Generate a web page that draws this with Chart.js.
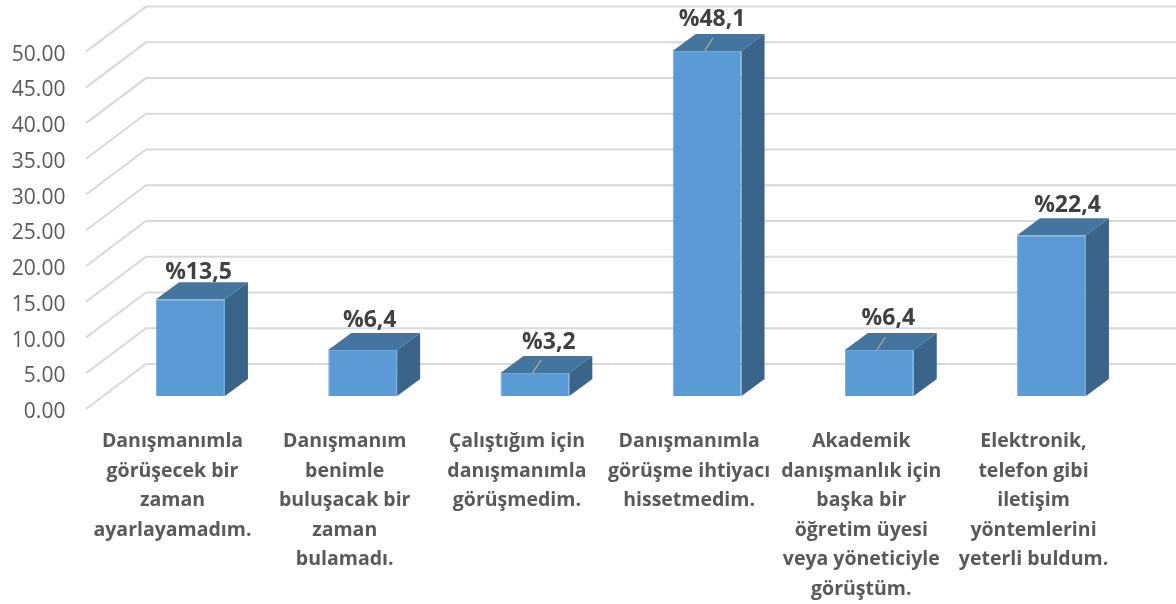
<!DOCTYPE html>
<html><head><meta charset="utf-8">
<style>html,body{margin:0;padding:0;background:#fff}#w{position:relative;width:1176px;height:604px}</style>
<script src="https://cdn.jsdelivr.net/npm/chart.js@4"></script>
</head><body><div id="w"><canvas id="c" width="1176" height="604"></canvas></div>
<script>
const categories = [
  ["Danışmanımla","görüşecek bir","zaman","ayarlayamadım."],
  ["Danışmanım","benimle","buluşacak bir","zaman","bulamadı."],
  ["Çalıştığım için","danışmanımla","görüşmedim."],
  ["Danışmanımla","görüşme ihtiyacı","hissetmedim."],
  ["Akademik","danışmanlık için","başka bir","öğretim üyesi","veya yöneticiyle","görüştüm."],
  ["Elektronik,","telefon gibi","iletişim","yöntemlerini","yeterli buldum."]
];
const values = [13.5, 6.4, 3.2, 48.1, 6.4, 22.4];
const labelShiftX = [8, 7, 14, 5, 9, 16];
const labelShiftY = [-27, -30, -31, -31, -32, -30];
const leaderLines = [false, false, true, true, true, false];

const DX = 23, DY = -17;
const FONT = '"Open Sans", sans-serif';

const gridPlugin = {
  id: 'grid3d',
  beforeDatasetsDraw(ch) {
    const s = ch.scales.y, c = ch.ctx, a = ch.chartArea;
    const x0 = a.left - 18.4, gx = 60, gy = -45;
    c.save();
    c.strokeStyle = '#d9d9d9'; c.lineWidth = 2;
    s.ticks.forEach(t => {
      const y = s.getPixelForValue(t.value);
      c.beginPath(); c.moveTo(x0, y); c.lineTo(x0 + gx, y + gy); c.lineTo(1176, y + gy); c.stroke();
    });
    c.restore();
  }
};
const barPlugin = {
  id: 'bar3d',
  afterDatasetsDraw(ch) {
    const c = ch.ctx, els = ch.getDatasetMeta(0).data;
    c.save();
    els.forEach((e, i) => {
      const p = e.getProps(['x','y','base','width']);
      const l = p.x - p.width/2, r = p.x + p.width/2, t = p.y, b = p.base;
      c.fillStyle = '#44759f';
      c.beginPath(); c.moveTo(l,t); c.lineTo(l+DX,t+DY); c.lineTo(r+DX,t+DY); c.lineTo(r,t); c.closePath(); c.fill();
      c.fillStyle = '#3a6489';
      c.beginPath(); c.moveTo(r,t); c.lineTo(r+DX,t+DY); c.lineTo(r+DX,b+DY); c.lineTo(r,b); c.closePath(); c.fill();
      if (leaderLines[i]) {
        c.strokeStyle = '#a6a6a6'; c.lineWidth = 1.3;
        c.beginPath(); c.moveTo(p.x-2.5,t); c.lineTo(p.x+6,t-13); c.stroke();
      }
      c.fillStyle = '#404040';
      c.font = 'bold 23px ' + FONT;
      c.textAlign = 'center'; c.textBaseline = 'middle';
      c.fillText('%' + values[i].toFixed(1).replace('.', ','), p.x + labelShiftX[i], t + labelShiftY[i]);
    });
    c.restore();
  }
};

new Chart(document.getElementById('c'), {
  type: 'bar',
  data: { labels: categories, datasets: [{
    data: values, yAxisID: 'yBar', clip: false,
    backgroundColor: '#5b9bd5', borderColor: '#6fa8dc', borderWidth: 1,
    barPercentage: 1, categoryPercentage: 0.4
  }]},
  plugins: [gridPlugin, barPlugin],
  options: {
    responsive: false, animation: false,
    layout: { padding: { top: 50.7, right: 38.4, left: 0, bottom: 0 } },
    plugins: { legend: { display: false }, tooltip: { enabled: false } },
    scales: {
      x: {
        grid: { display: false, drawTicks: false }, border: { display: false },
        afterFit(s) { s.height = 195; },
        ticks: {
          autoSkip: false, maxRotation: 0, minRotation: 0, padding: 18, labelOffset: -18,
          color: '#595959', font: { family: FONT, size: 19.5, weight: 'bold', lineHeight: 1.51 }
        }
      },
      y: {
        position: 'left', min: 0, max: 50,
        grid: { display: false, drawTicks: false }, border: { display: false },
        afterFit(s) { s.width = 104.4; },
        ticks: {
          stepSize: 5, padding: 39, labelOffset: 3, color: '#595959',
          font: { family: FONT, size: 21 },
          callback: v => Number(v).toFixed(2)
        }
      },
      yBar: { display: false, min: -1.81, max: 48 }
    }
  }
});
</script></body></html>
